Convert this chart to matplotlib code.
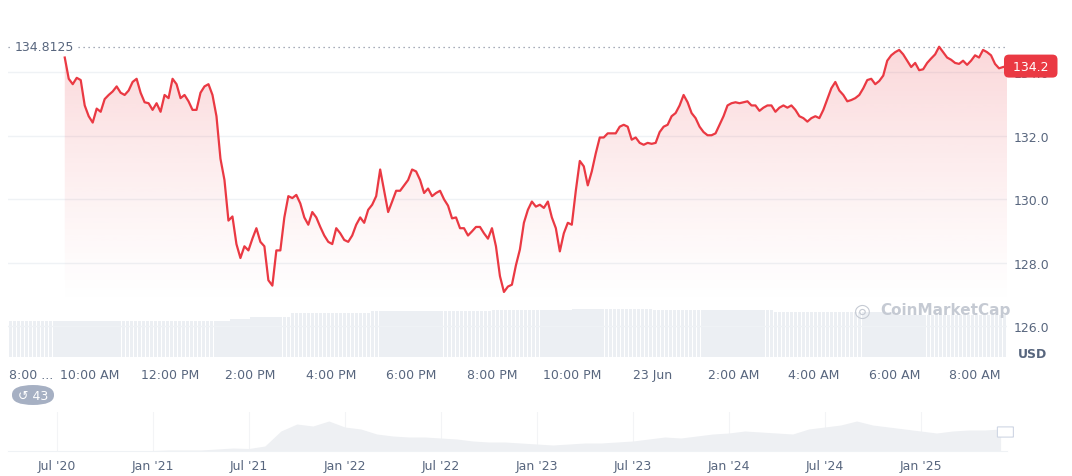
import numpy as np
import matplotlib.pyplot as plt
from matplotlib.patches import FancyBboxPatch

# price (USD), from ~9:22 AM to ~8:46 AM next day
price = [134.47, 133.80, 133.63, 133.83, 133.76, 132.96, 132.62, 132.42, 132.86, 132.76,
         133.16, 133.29, 133.40, 133.56, 133.36, 133.29, 133.43, 133.70, 133.80, 133.36,
         133.06, 133.03, 132.82, 133.03, 132.76, 133.29, 133.19, 133.80, 133.63, 133.19,
         133.29, 133.09, 132.82, 132.82, 133.36, 133.56, 133.63, 133.29, 132.62, 131.28,
         130.61, 129.33, 129.46, 128.59, 128.15, 128.52, 128.39, 128.76, 129.09, 128.66,
         128.52, 127.45, 127.28, 128.39, 128.39, 129.43, 130.10, 130.04, 130.14, 129.87,
         129.43, 129.20, 129.60, 129.43, 129.13, 128.86, 128.66, 128.59, 129.09, 128.93,
         128.72, 128.66, 128.86, 129.20, 129.43, 129.26, 129.67, 129.83, 130.10, 130.94,
         130.27, 129.60, 129.93, 130.27, 130.27, 130.44, 130.61, 130.94, 130.88, 130.61,
         130.20, 130.34, 130.10, 130.20, 130.27, 130.00, 129.80, 129.40, 129.43, 129.09,
         129.09, 128.86, 128.99, 129.13, 129.13, 128.93, 128.76, 129.09, 128.52, 127.58,
         127.08, 127.25, 127.31, 127.92, 128.42, 129.26, 129.67, 129.93, 129.77, 129.83,
         129.73, 129.93, 129.43, 129.09, 128.36, 128.93, 129.26, 129.20, 130.27, 131.21,
         131.04, 130.44, 130.88, 131.45, 131.95, 131.95, 132.08, 132.08, 132.08, 132.29,
         132.35, 132.29, 131.88, 131.95, 131.78, 131.72, 131.78, 131.75, 131.78, 132.12,
         132.29, 132.35, 132.62, 132.72, 132.96, 133.29, 133.06, 132.72, 132.56, 132.29,
         132.12, 132.02, 132.02, 132.08, 132.35, 132.62, 132.96, 133.03, 133.06, 133.03,
         133.06, 133.09, 132.96, 132.96, 132.79, 132.89, 132.96, 132.96, 132.76, 132.89,
         132.96, 132.89, 132.96, 132.82, 132.62, 132.56, 132.45, 132.56, 132.62, 132.56,
         132.82, 133.16, 133.50, 133.70, 133.43, 133.29, 133.09, 133.13, 133.19, 133.29,
         133.50, 133.76, 133.80, 133.63, 133.73, 133.90, 134.37, 134.54, 134.64, 134.71,
         134.57, 134.37, 134.17, 134.30, 134.07, 134.10, 134.30, 134.44, 134.57, 134.81,
         134.64, 134.47, 134.40, 134.30, 134.27, 134.37, 134.24, 134.37, 134.54, 134.47,
         134.71, 134.64, 134.54, 134.27, 134.13, 134.17, 134.20]
t_start, t_end = 1.39, 24.8  # hours after 8:00 AM
hours = np.linspace(t_start, t_end, len(price))

# volume (relative), one bar per ~6 min across the whole window
vol_hours = np.arange(0.0, 24.8, 0.1)
vol_levels = [(0.0, 36), (5.5, 38), (6.0, 40), (7.0, 44), (9.0, 46), (12.0, 47), (14.0, 48),
              (16.0, 47), (19.0, 45), (22.0, 42)]
volume = [[v for h0, v in vol_levels if h0 <= h][-1] for h in vol_hours]

xtick_labels = ["8:00 ...", "10:00 AM", "12:00 PM", "2:00 PM", "4:00 PM", "6:00 PM",
                "8:00 PM", "10:00 PM", "23 Jun", "2:00 AM", "4:00 AM", "6:00 AM", "8:00 AM"]
yticks = [126, 128, 130, 132, 134]
open_price = 134.8125
last_price = 134.2

# navigator: monthly history from Apr '20
nav_values = [0, 0, 0, 0, 0, 0, 0, 0, 0, 0.5, 1, 1, 1, 2, 3, 2.5, 5, 20, 27, 25, 30, 24,
              22, 17, 15, 14, 14, 13, 12, 10, 9, 9, 8, 7, 6, 7, 8, 8, 9, 10, 12, 14, 13, 15,
              17, 18, 20, 19, 18, 17, 22, 24, 26, 30, 26, 24, 22, 20, 18, 20, 21, 21, 22]
nav_labels = ["Jul '20", "Jan '21", "Jul '21", "Jan '22", "Jul '22", "Jan '23",
              "Jul '23", "Jan '24", "Jul '24", "Jan '25"]

RED = "#ea3943"
GRAY = "#58667e"
W, H = 1072, 477
fig = plt.figure(figsize=(W / 100, H / 100), dpi=100)

def box(x0, y0, x1, y1):
    return [x0 / W, 1 - y1 / H, (x1 - x0) / W, (y1 - y0) / H]

ax = fig.add_axes(box(8, 10, 1007, 358))
ylo, yhi = 125.03, 136.0
xlo, xhi = -0.02, 24.8

# volume on its own scale
axv = ax.twinx()
axv.bar(vol_hours, volume, width=0.085, color="#eceff3", align="edge")
axv.set_ylim(0, 348)
axv.axis("off")
ax.set_zorder(axv.get_zorder() + 1)
ax.patch.set_visible(False)

for y in yticks:
    ax.axhline(y, color="#eff2f5", lw=1, zorder=1)

# gradient fill under the line (transparent towards the bottom)
n = 256
rgba = np.zeros((n, 1, 4))
rgba[..., :3] = plt.matplotlib.colors.to_rgb(RED)
frac = np.linspace(0, 1, n)  # 0 at bottom, 1 at top
rgba[:, 0, 3] = 0.2 * np.clip((frac - 0.15) / 0.85, 0, 1) ** 1.3
im = ax.imshow(rgba, extent=[xlo, xhi, ylo, max(price)], aspect="auto",
               zorder=2, origin="lower")
poly = ax.fill_between(hours, price, ylo, color="none")
im.set_clip_path(poly.get_paths()[0], transform=ax.transData)

ax.plot(hours, price, color=RED, lw=1.6, zorder=3)
ax.axhline(open_price, color="#8a93a3", lw=0.9, ls=(0, (1, 3)), zorder=2)

ax.set_xlim(xlo, xhi)
ax.set_ylim(ylo, yhi)
ax.yaxis.tick_right()
ax.set_yticks(yticks)
ax.set_yticklabels([f"{y:.1f}" for y in yticks], color=GRAY, fontsize=9)
ax.set_xticks(range(0, 25, 2))
ax.set_xticklabels(xtick_labels, color=GRAY, fontsize=9)
ax.get_xticklabels()[0].set_ha("left")
ax.tick_params(length=0, pad=8)
ax.tick_params(axis="y", pad=5)
for s in ax.spines.values():
    s.set_visible(False)

ax.text(0.15, open_price, "134.8125", color=GRAY, fontsize=9, va="center", ha="left",
        bbox=dict(fc="white", ec="none", pad=1), zorder=4)
ax.text(1.002, (last_price - ylo) / (yhi - ylo), f" {last_price} ", transform=ax.transAxes,
        color="white", fontsize=9, va="center", ha="left", clip_on=False, zorder=10,
        bbox=dict(boxstyle="round,pad=0.4", fc=RED, ec="none"))
fig.text(1018 / W, 1 - 355 / H, "USD", color=GRAY, fontsize=9, fontweight="bold", va="center")
fig.text(880 / W, 1 - 311 / H, "CoinMarketCap", color="#c5cad3", fontsize=11,
         fontweight="bold", va="center")
fig.text(862 / W, 1 - 311 / H, "\u25CE", color="#c5cad3", fontsize=14, va="center", ha="center")

# badge
fig.patches.append(FancyBboxPatch((12 / W, 1 - 406 / H), 42 / W, 20 / H,
                                  boxstyle="round,pad=0,rounding_size=0.02",
                                  transform=fig.transFigure, fc="#a6b0c3", ec="none"))
fig.text(33 / W, 1 - 396 / H, "\u21ba 43", color="white", fontsize=9, ha="center", va="center")

# navigator
axn = fig.add_axes(box(8, 413, 1007, 452))
months = np.arange(-3, -3 + len(nav_values))
axn.fill_between(months, nav_values, 0, color="#eef0f3", lw=0)
axn.set_xlim(-3.06, 59.4)
axn.set_ylim(0, 39)
nav_ticks = np.arange(0, 60, 6)
for m in nav_ticks:
    axn.axvline(m, color="#f3f4f6", lw=0.8, zorder=0)
axn.set_xticks(nav_ticks)
axn.set_xticklabels(nav_labels, color=GRAY, fontsize=9)
axn.set_yticks([])
axn.tick_params(length=0, pad=6)
for k, s in axn.spines.items():
    s.set_visible(k == "bottom")
axn.spines["bottom"].set_color("#eff2f5")
axn.add_patch(FancyBboxPatch((58.9, 14), 0.8, 10, boxstyle="round,pad=0.1",
                             fc="white", ec="#cfd6e4", lw=0.8, clip_on=False))

fig.savefig("out.png", dpi=100)
